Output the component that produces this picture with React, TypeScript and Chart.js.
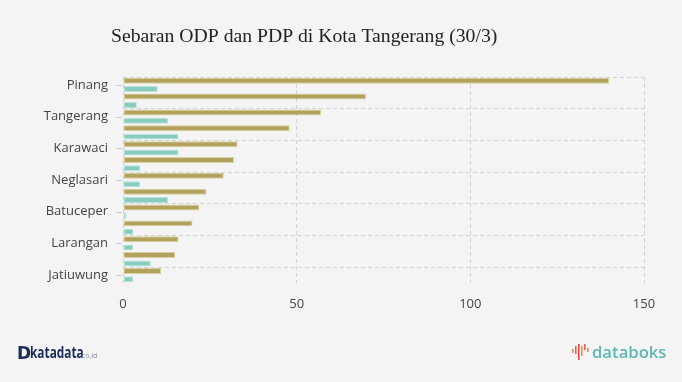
import React, { useEffect, useRef } from "react";
import { Chart, registerables } from "chart.js";

Chart.register(...registerables);

const titleText = "Sebaran ODP dan PDP di Kota Tangerang (30/3)";
const categories = [
  "Pinang",
  "Cipondoh",
  "Tangerang",
  "Cibodas",
  "Karawaci",
  "Periuk",
  "Neglasari",
  "Karangtengah",
  "Batuceper",
  "Ciledug",
  "Larangan",
  "Benda",
  "Jatiuwung",
];
const odpValues = [140, 70, 57, 48, 33, 32, 29, 24, 22, 20, 16, 15, 11];
const pdpValues = [10, 4, 13, 16, 16, 5, 5, 13, 1, 3, 3, 8, 3];
const xMin = 0;
const xMax = 150;
const xStep = 50;

const GOLD = "#b3a25b";
const GOLD_EDGE = "#d9cfa4";
const TEAL = "#86cdbf";
const TEAL_EDGE = "#bde3db";
const GRID = "#d2d2d2";

const decorPlugin = {
  id: "decor",
  afterDraw(chart: any) {
    const ctx = chart.ctx as CanvasRenderingContext2D;
    const yScale = chart.scales.y;
    const area = chart.chartArea;
    ctx.save();
    // y tick marks at label centres
    ctx.strokeStyle = "#cccccc";
    ctx.lineWidth = 1;
    ctx.setLineDash([]);
    categories.forEach((_, i) => {
      if (i % 2 !== 0) return;
      const y = Math.round(yScale.getPixelForValue(i)) + 0.5;
      ctx.beginPath();
      ctx.moveTo(area.left - 7, y);
      ctx.lineTo(area.left - 1, y);
      ctx.stroke();
    });

    // title
    ctx.fillStyle = "#222222";
    ctx.font = '19.7px "Liberation Serif", "DejaVu Serif", serif';
    ctx.textBaseline = "alphabetic";
    ctx.textAlign = "left";
    ctx.fillText(titleText, 111, 42);

    // katadata logo
    ctx.fillStyle = "#1b2a59";
    ctx.font = '900 17px "DejaVu Sans", sans-serif';
    ctx.fillText("D", 17, 359);
    ctx.save();
    ctx.translate(30, 358);
    ctx.scale(0.74, 1);
    ctx.font = 'bold 16px "Open Sans", sans-serif';
    ctx.fillText("katadata", 0, 0);
    ctx.restore();
    ctx.fillStyle = "#8a8f9c";
    ctx.font = '7px "Open Sans", sans-serif';
    ctx.fillText(".co.id", 80, 358);

    // databoks logo
    const bars = [
      [572, 349, 4, "#f07f5a"],
      [575, 346, 8, "#e8604b"],
      [578, 344, 16, "#e04b45"],
      [581, 346, 10, "#f09050"],
      [584, 344, 6, "#e8604b"],
      [587, 348, 4, "#f07f5a"],
    ] as const;
    bars.forEach(([x, y, h, c]) => {
      ctx.fillStyle = c;
      ctx.fillRect(x, y, 1.6, h);
    });
    ctx.fillStyle = "#5cb8b1";
    ctx.save();
    ctx.translate(592, 358);
    ctx.scale(0.98, 1);
    ctx.font = '600 17px "Open Sans", sans-serif';
    ctx.fillText("databoks", 0, 0);
    ctx.restore();
    ctx.restore();
  },
};

export default function App() {
  const canvasRef = useRef<HTMLCanvasElement | null>(null);

  useEffect(() => {
    document.body.style.margin = "0";
    document.body.style.background = "#f4f4f4";
    const canvas = canvasRef.current;
    if (!canvas) return;
    const chart = new Chart(canvas, {
      type: "bar",
      data: {
        labels: categories,
        datasets: [
          {
            label: "ODP",
            data: odpValues,
            backgroundColor: GOLD,
            borderColor: GOLD_EDGE,
            borderWidth: 1,
            borderSkipped: false,
            barPercentage: 0.72,
            categoryPercentage: 1.05,
          },
          {
            label: "PDP",
            data: pdpValues,
            backgroundColor: TEAL,
            borderColor: TEAL_EDGE,
            borderWidth: 1,
            borderSkipped: false,
            barPercentage: 0.72,
            categoryPercentage: 1.05,
          },
        ],
      },
      plugins: [decorPlugin],
      options: {
        indexAxis: "y",
        animation: false,
        responsive: false,
        maintainAspectRatio: false,
        devicePixelRatio: 1,
        layout: { padding: { top: 77, left: 0, right: 38, bottom: 69 } },
        plugins: {
          legend: { display: false },
          title: { display: false },
          tooltip: { enabled: false },
        },
        scales: {
          x: {
            type: "linear",
            min: xMin,
            max: xMax,
            ticks: {
              stepSize: xStep,
              padding: 13,
              color: "#444444",
              font: { family: '"Open Sans", sans-serif', size: 13 },
            },
            grid: {
              color: GRID,
              drawTicks: false,
              lineWidth: 1,
            },
            border: { display: false, dash: [4, 3] },
            afterFit(scale: any) {
              scale.height = 30;
            },
          },
          y: {
            type: "category",
            offset: true,
            ticks: {
              autoSkip: false,
              padding: 15,
              color: "#444444",
              font: { family: '"Open Sans", sans-serif', size: 13 },
              callback: (_v: any, i: number) => (i % 2 === 0 ? categories[i] : ""),
            },
            grid: {
              offset: true,
              drawTicks: false,
              color: (c: any) => (c.index % 2 === 0 ? GRID : "rgba(0,0,0,0)"),
              lineWidth: 1,
            },
            border: { display: false, dash: [4, 3] },
            afterFit(scale: any) {
              scale.width = 123;
            },
          },
        },
      },
    });
    return () => chart.destroy();
  }, []);

  return (
    <div
      style={{
        position: "fixed",
        left: 0,
        top: 0,
        width: 682,
        height: 382,
        background: "#f4f4f4",
      }}
    >
      <canvas ref={canvasRef} width={682} height={382} style={{ width: 682, height: 382, display: "block" }} />
    </div>
  );
}
